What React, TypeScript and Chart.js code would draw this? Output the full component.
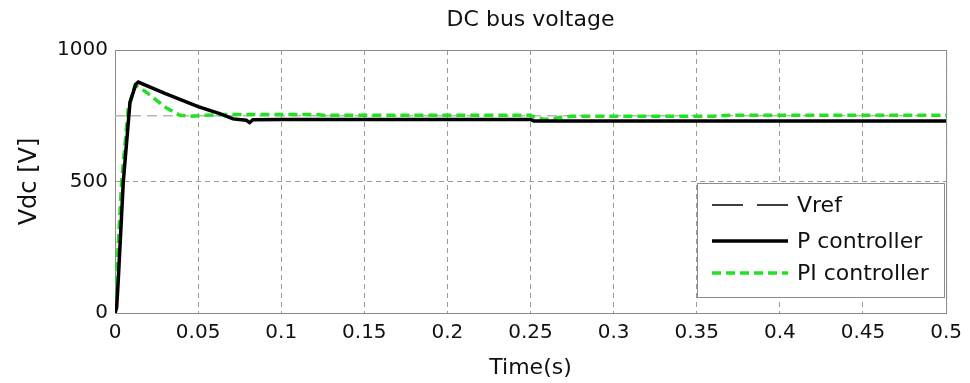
import React, { useEffect, useRef } from "react";
import { Chart, registerables } from "chart.js";

Chart.register(...registerables);

const chartTitle = "DC bus voltage";
const xAxisTitle = "Time(s)";
const yAxisTitle = "Vdc [V]";

const xTickValues = [0, 0.05, 0.1, 0.15, 0.2, 0.25, 0.3, 0.35, 0.4, 0.45, 0.5];
const xTickLabels = ["0", "0.05", "0.1", "0.15", "0.2", "0.25", "0.3", "0.35", "0.4", "0.45", "0.5"];
const yTickValues = [0, 500, 1000];
const yTickLabels = ["0", "500", "1000"];

const vrefTime = [0, 0.5];
const vrefValues = [750, 750];

const pTime = [0, 0.001, 0.002, 0.005, 0.009, 0.0125, 0.014, 0.03, 0.05, 0.063, 0.071, 0.076, 0.079, 0.081, 0.083, 0.1, 0.25, 0.252, 0.5];
const pValues = [0, 20, 130, 500, 800, 870, 878, 835, 785, 758, 738, 735, 733, 724, 735, 736, 736, 730, 730];

const piTime = [0, 0.001, 0.004, 0.008, 0.012, 0.016, 0.021, 0.031, 0.039, 0.045, 0.055, 0.065, 0.12, 0.125, 0.25, 0.253, 0.258, 0.262, 0.268, 0.275, 0.36, 0.37, 0.5];
const piValues = [0, 150, 500, 780, 866, 852, 829, 779, 752, 748, 752, 755, 755, 752, 752, 742, 737, 736, 744, 748, 748, 752, 752];

const legendLabels = ["Vref", "P controller", "PI controller"];

const FONT = "'DejaVu Sans', sans-serif";
const TEXT = "#111111";

const framePlugin = {
  id: "frame",
  beforeDatasetsDraw(chart: any) {
    const { ctx, chartArea } = chart;
    ctx.save();
    ctx.strokeStyle = "#8c8c8c";
    ctx.lineWidth = 1;
    ctx.setLineDash([]);
    ctx.strokeRect(chartArea.left + 0.5, chartArea.top + 0.5, chartArea.right - chartArea.left, chartArea.bottom - chartArea.top);
    ctx.restore();
  },
};

const insideLegendPlugin = {
  id: "insideLegend",
  afterDatasetsDraw(chart: any, _args: any, opts: any) {
    const { ctx } = chart;
    const box = opts.box;
    ctx.save();
    ctx.fillStyle = "#ffffff";
    ctx.fillRect(box.left, box.top, box.width, box.height);
    ctx.strokeStyle = "#8c8c8c";
    ctx.lineWidth = 1;
    ctx.setLineDash([]);
    ctx.strokeRect(box.left + 0.5, box.top + 0.5, box.width, box.height);
    ctx.font = opts.font;
    ctx.textBaseline = "middle";
    ctx.textAlign = "left";
    opts.items.forEach((it: any, i: number) => {
      const y = it.y;
      ctx.beginPath();
      ctx.strokeStyle = it.color;
      ctx.lineWidth = it.width;
      ctx.setLineDash(it.dash);
      ctx.moveTo(opts.lineX0, y);
      ctx.lineTo(opts.lineX1, y);
      ctx.stroke();
      ctx.setLineDash([]);
      ctx.fillStyle = TEXT;
      ctx.fillText(legendLabels[i], opts.textX, y + 1);
    });
    ctx.restore();
  },
};

export default function App() {
  const canvasRef = useRef<HTMLCanvasElement | null>(null);

  useEffect(() => {
    document.body.style.margin = "0";
    const canvas = canvasRef.current;
    if (!canvas) return;
    const toPts = (xs: number[], ys: number[]) => xs.map((x, i) => ({ x, y: ys[i] }));
    const chart = new Chart(canvas, {
      type: "line",
      data: {
        datasets: [
          {
            label: legendLabels[0],
            data: toPts(vrefTime, vrefValues),
            borderColor: "#b8b8b8",
            borderWidth: 1.5,
            borderDash: [10, 6],
            pointRadius: 0,
            order: 3,
          },
          {
            label: legendLabels[1],
            data: toPts(pTime, pValues),
            borderColor: "#000000",
            borderWidth: 3.5,
            pointRadius: 0,
            order: 1,
          },
          {
            label: legendLabels[2],
            data: toPts(piTime, piValues),
            borderColor: "#22e022",
            borderWidth: 3.5,
            borderDash: [9, 5],
            pointRadius: 0,
            order: 2,
          },
        ],
      },
      options: {
        responsive: false,
        animation: false,
        layout: { padding: { left: 0, right: 22, top: 0, bottom: 0 } },
        plugins: {
          legend: { display: false },
          tooltip: { enabled: false },
          title: {
            display: true,
            text: chartTitle,
            fullSize: false,
            color: TEXT,
            font: { family: FONT, size: 22, weight: "normal" },
            padding: { top: 7, bottom: 16.6 },
          },
          insideLegend: {
            box: { left: 697, top: 183, width: 247, height: 114 },
            font: `22px ${FONT}`,
            lineX0: 712,
            lineX1: 788,
            textX: 797,
            items: [
              { y: 205, color: "#000000", width: 1.6, dash: [31, 14] },
              { y: 241, color: "#000000", width: 3.5, dash: [] },
              { y: 273, color: "#22e022", width: 3.5, dash: [9, 5] },
            ],
          },
        } as any,
        scales: {
          x: {
            type: "linear",
            min: 0,
            max: 0.5,
            afterBuildTicks: (scale: any) => {
              scale.ticks = xTickValues.map((v) => ({ value: v }));
            },
            afterFit: (scale: any) => {
              scale.height = 70;
            },
            ticks: {
              autoSkip: false,
              maxRotation: 0,
              padding: 8,
              color: TEXT,
              font: { family: FONT, size: 20 },
              callback: (_v: any, i: number) => xTickLabels[i],
            },
            grid: { color: "#9a9a9a", lineWidth: 1, drawTicks: false },
            border: { display: false, dash: [5, 4] },
            title: {
              display: true,
              text: xAxisTitle,
              color: TEXT,
              font: { family: FONT, size: 22 },
              padding: { top: 0, bottom: 2 },
            },
          },
          y: {
            type: "linear",
            min: 0,
            max: 1000,
            afterBuildTicks: (scale: any) => {
              scale.ticks = yTickValues.map((v) => ({ value: v }));
            },
            afterFit: (scale: any) => {
              scale.width = 115;
            },
            ticks: {
              padding: 7,
              color: TEXT,
              font: { family: FONT, size: 20 },
              callback: (_v: any, i: number) => yTickLabels[i],
            },
            grid: { color: "#9a9a9a", lineWidth: 1, drawTicks: false },
            border: { display: false, dash: [5, 4] },
            title: {
              display: true,
              text: yAxisTitle,
              color: TEXT,
              font: { family: FONT, size: 24 },
              padding: { top: 15, bottom: 0 },
            },
          },
        },
      },
      plugins: [framePlugin, insideLegendPlugin],
    });
    return () => chart.destroy();
  }, []);

  return <canvas ref={canvasRef} width={970} height={383} style={{ display: "block" }} />;
}
